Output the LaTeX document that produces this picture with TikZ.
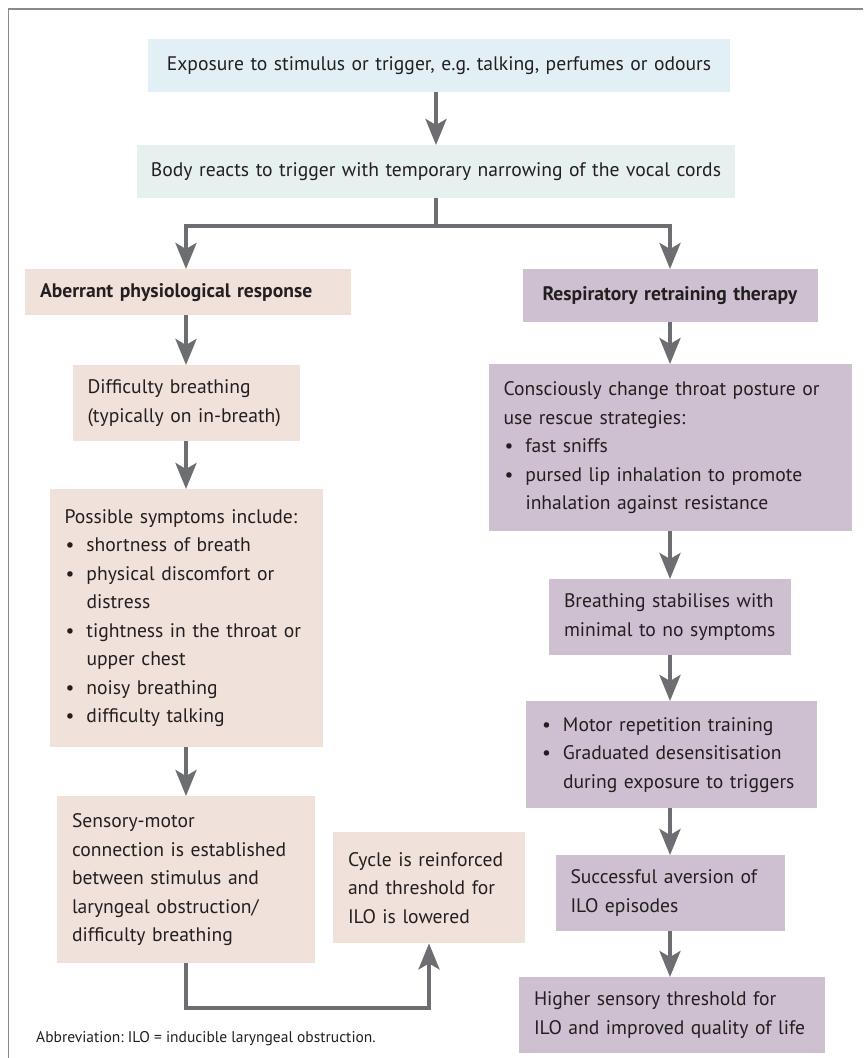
\documentclass[tikz,border=0pt]{standalone}
\usepackage{fontspec}
\setmainfont{PT Sans}
\usepackage{xcolor}
\usepackage{tikz}
\usetikzlibrary{arrows.meta}
\frenchspacing

\definecolor{ink}{HTML}{231F20}
\definecolor{arrowgray}{HTML}{6D6E71}
\definecolor{framegray}{HTML}{8A8A8A}
\definecolor{expofill}{HTML}{E2F0F6}
\definecolor{reactfill}{HTML}{E6F0EE}
\definecolor{aberfill}{HTML}{F0E1DA}
\definecolor{therfill}{HTML}{CEBFD1}

\newcommand{\bul}{\makebox[22pt][l]{\hspace{1pt}\textbullet}}
\newcommand{\ind}{\hspace*{22pt}}

\tikzset{
  box/.style={anchor=north, inner xsep=15pt, inner ysep=0pt, align=left, text=ink,
    font=\fontsize{19.6}{28.5}\selectfont},
  topbox/.style={box, inner xsep=5pt, align=center},
  aberbox/.style={box, fill=aberfill},
  therbox/.style={box, fill=therfill},
  arr/.style={draw=arrowgray, line width=4pt, -{Stealth[length=26pt,width=21pt,inset=6pt]}}
}

\begin{document}
\begin{tikzpicture}[x=1pt, y=-1pt]
    \useasboundingbox (0,0) rectangle (863,1058);
    \draw [framegray, line width=1.5pt] (8.5,1058) -- (8.5,9) -- (863,9);   % frame, left and top
    \node[topbox, fill=expofill, text width=572pt, minimum height=53pt] (expo) at (439,39)
        {Exposure to stimulus or trigger, e.g. talking, perfumes or odours};
    \node[topbox, fill=reactfill, text width=588pt, minimum height=53pt] (react) at (436,145)
        {Body reacts to trigger with temporary narrowing of the vocal cords};
    \coordinate (split) at (436,226);
    % left column
    \node[aberbox, text width=296pt, minimum height=46pt] (aber) at (188,269)
        {\textbf{Aberrant physiological response}};
    \node[aberbox, text width=197pt, minimum height=76pt] (diff) at (186,365)
        {Difficulty breathing\\(typically on in-breath)};
    \node[aberbox, text width=243pt, minimum height=258pt] (symp) at (186,489)
        {Possible symptoms include:\\\bul shortness of breath\\\bul physical discomfort or\\\ind distress\\
         \bul tightness in the throat or\\\ind upper chest\\\bul noisy breathing\\\bul difficulty talking};
    \node[aberbox, text width=228pt, minimum height=167pt] (sens) at (186,796)
        {Sensory-motor\\connection is established\\between stimulus and\\laryngeal obstruction/\\difficulty breathing};
    \node[aberbox, text width=162pt, minimum height=111pt] (cycle) at (429,832)
        {Cycle is reinforced\\and threshold for\\ILO is lowered};
    % right column
    \node[therbox, align=center, inner xsep=5pt, text width=285pt, minimum height=53pt] (resp) at (670,269)
        {\textbf{Respiratory retraining therapy}};
    \node[therbox, text width=333pt, minimum height=167pt] (consc) at (670,364)
        {Consciously change throat posture or\\use rescue strategies:\\\bul fast sniffs\\
         \bul pursed lip inhalation to promote\\\ind inhalation against resistance};
    \node[therbox, text width=212pt, minimum height=76pt] (stab) at (670,579)
        {Breathing stabilises with\\minimal to no symptoms};
    \node[therbox, text width=261pt, minimum height=107pt] (motor) at (671.5,701)
        {\bul Motor repetition training\\\bul Graduated desensitisation\\\ind during exposure to triggers};
    \node[therbox, text width=199pt, minimum height=76pt] (succ) at (670,855)
        {Successful aversion of\\ILO episodes};
    \node[therbox, text width=276pt, minimum height=76pt] (high) at (672,977)
        {Higher sensory threshold for\\ILO and improved quality of life};
    \node[anchor=west, inner sep=0pt, text=ink, font=\fontsize{15.5}{18}\selectfont] (abbr) at (36,1039)
        {Abbreviation: ILO = inducible laryngeal obstruction.};
    % arrows
    \draw [arr] (expo.south -| react.north) -- (react.north);
    \draw [arrowgray, line width=4pt] (react.south) -- (split);
    \draw [arr] (split) -| (diff.north |- aber.north);
    \draw [arr] (split) -| (resp.north);
    \draw [arr] (diff.north |- aber.south) -- (diff.north);
    \draw [arr] (diff.south) -- (symp.north);
    \draw [arr] (symp.south) -- (sens.north);
    \draw [arr] (sens.south) -- ++(0,45) -| (cycle.south);
    \draw [arr] (resp.south) -- (consc.north);
    \draw [arr] (consc.south) -- (stab.north);
    \draw [arr] (stab.south) -- (stab.south |- motor.north);
    \draw [arr] (stab.south |- motor.south) -- (succ.north);
    \draw [arr] (succ.south) -- (succ.south |- high.north);
\end{tikzpicture}
\end{document}
